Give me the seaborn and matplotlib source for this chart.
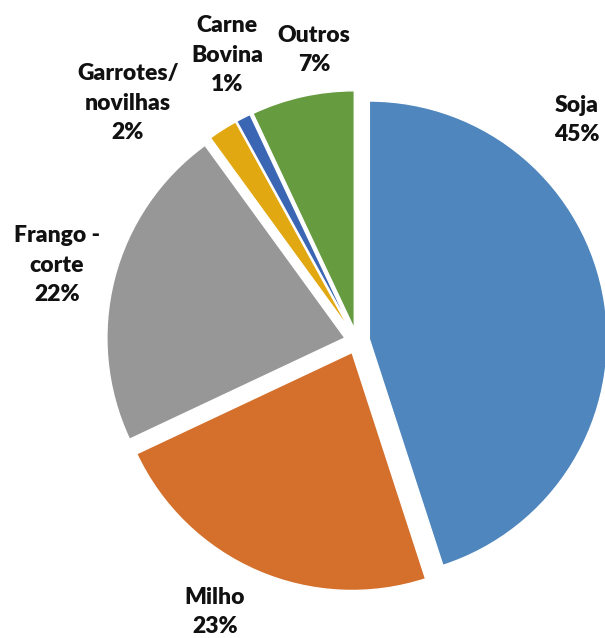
import matplotlib
matplotlib.use("Agg")
import matplotlib.pyplot as plt
import seaborn as sns

categories = ["Soja", "Milho", "Frango -\ncorte", "Garrotes/\nnovilhas", "Carne\nBovina", "Outros"]
values = [45, 23, 22, 2, 1, 7]

colors = ["#4F86BD", "#D4702C", "#979797", "#E2A811", "#3B66B3", "#669B40"]
# label centers in pixel coordinates (x from left, y from top)
label_px = [(577, 120), (215, 612), (57, 265), (128, 103), (227, 55), (314, 50)]

sns.set_theme(style="white")
plt.rcParams["font.family"] = ["Lato", "DejaVu Sans"]

W, H = 605, 638
cx, cy = 357, 341
R = 238
fig = plt.figure(figsize=(W / 100, H / 100), dpi=100)
ax = fig.add_axes([0, 0, 1, 1])
ax.pie(values, radius=R, center=(0, 0), startangle=90, counterclock=False,
       explode=[12.5] * len(values), colors=colors,
       wedgeprops=dict(edgecolor="white", linewidth=1.0))
ax.set_xlim(-cx, W - cx)
ax.set_ylim(-(H - cy), cy)
ax.set_aspect("auto")
ax.axis("off")

for cat, v, (px, py) in zip(categories, values, label_px):
    ax.text(px - cx, cy - py, f"{cat}\n{v}%", ha="center", va="center",
            fontsize=16.5, fontweight="heavy", color="#111111", linespacing=1.52)

fig.savefig("out.png", dpi=100)
